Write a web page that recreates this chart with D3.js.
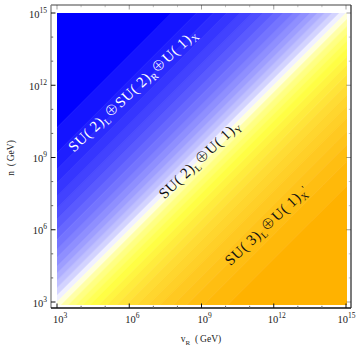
<!DOCTYPE html>
<html><head><meta charset="utf-8">
<script src="https://cdn.jsdelivr.net/npm/d3@7/dist/d3.min.js"></script>
<style>body{margin:0;background:#fff}svg{display:block}</style>
</head><body><svg id="c" width="356" height="347"></svg>
<script>
// ---- data ----
// contour levels of d = log10(n) - log10(vR)
const levelsBlue   = [0, 0.3, 0.6, 0.9, 1.2, 1.5, 1.85, 2.2, 2.6, 3.0, 3.45, 3.9, 4.4, 4.95, 5.5, 6.2, 7.25, 30];
const levelsOrange = [0, -0.3, -0.6, -0.9, -1.2, -1.5, -1.85, -2.2, -2.6, -3.0, -3.45, -3.9, -4.4, -4.95, -5.5, -6.2, -7.2, -30];
const xTickExps = [3, 6, 9, 12, 15];
const yTickExps = [3, 6, 9, 12, 15];
const minorExps = d3.range(3, 16);
const regionLabels = [
  {parts:[["SU(\u20092)",""],["L","sub"],["\u2295","op"],["SU(\u20092)",""],["R","sub"],["\u2295","op"],["U(\u20091)",""],["X","sub"]], x:6.28, y:11.64, color:"#ffffff"},
  {parts:[["SU(\u20092)",""],["L","sub"],["\u2295","op"],["U(\u20091)",""],["Y","sub"]], x:9.06, y:8.77, color:"#111111"},
  {parts:[["SU(\u20093)",""],["L","sub"],["\u2295","op"],["U(\u20091)",""],["X","sub"],["'","sup"]], x:11.84, y:6.03, color:"#111111"}
];

// ---- layout ----
const svg = d3.select("#c");
const x = d3.scaleLog().domain([1e3, 1e15]).range([57, 346]);
const y = d3.scaleLog().domain([1e3, 1e15]).range([302, 13]);
const P = v => Math.pow(10, v);
const frame = {l:51, r:351, t:5, b:308};
const fill = {l:57, r:347, t:13, b:305};

svg.append("clipPath").attr("id","clip").append("rect")
  .attr("x", fill.l).attr("y", fill.t).attr("width", fill.r-fill.l).attr("height", fill.b-fill.t);

const blueI = d3.interpolateRgb("#ffffff", "#0000ff");
const orangeI = d3.piecewise(d3.interpolateRgb, ["#ffffff", "#ffff88", "#ffff44", "#ffe038", "#ffc820", "#ffb200"]);

const g = svg.append("g").attr("clip-path","url(#clip)");
function band(a, b, col) {
  const x0 = -20, x1 = 40;
  const pts = [[x0, x0+a],[x1, x1+a],[x1, x1+b],[x0, x0+b]].map(p => [x(P(p[0])), y(P(p[1]))]);
  g.append("path").attr("d", "M" + pts.join("L") + "Z").attr("fill", col).attr("stroke", col).attr("stroke-width", 0.6);
}
const nB = levelsBlue.length - 1;
for (let i = 0; i < nB; i++) {
  const t = i === nB-1 ? 1 : 0.06 + 0.86 * Math.pow(i / (nB - 2), 0.75);
  band(levelsBlue[i], levelsBlue[i+1], blueI(Math.min(1, t)));
}
const nO = levelsOrange.length - 1;
for (let i = 0; i < nO; i++) {
  const t = i === nO-1 ? 1 : 0.06 + 0.88 * Math.pow(i / (nO - 2), 0.85);
  band(levelsOrange[i+1], levelsOrange[i], orangeI(Math.min(1, t)));
}

// frame
svg.append("line").attr("x1",frame.l).attr("x2",frame.l).attr("y1",frame.t).attr("y2",frame.b).attr("stroke","#808080").attr("stroke-width",1.3);
svg.append("line").attr("x1",frame.l).attr("x2",frame.r).attr("y1",frame.t).attr("y2",frame.t).attr("stroke","#808080").attr("stroke-width",1.3);
svg.append("line").attr("x1",frame.l).attr("x2",frame.r).attr("y1",frame.b).attr("y2",frame.b).attr("stroke","#111").attr("stroke-width",1.3);
svg.append("line").attr("x1",frame.r).attr("x2",frame.r).attr("y1",frame.t).attr("y2",frame.b).attr("stroke","#333").attr("stroke-width",1.3);

// ticks
const tk = svg.append("g");
minorExps.forEach(e => {
  const major = xTickExps.includes(e);
  const L = major ? 4.5 : 2.2;
  const col = major ? "#111" : "#666";
  tk.append("line").attr("x1",frame.l).attr("x2",frame.l+L).attr("y1",y(P(e))).attr("y2",y(P(e))).attr("stroke",col).attr("stroke-width",1);
  tk.append("line").attr("x1",x(P(e))).attr("x2",x(P(e))).attr("y1",frame.b).attr("y2",frame.b-L).attr("stroke",col).attr("stroke-width",1);
  tk.append("line").attr("x1",frame.r).attr("x2",frame.r-L).attr("y1",y(P(e))).attr("y2",y(P(e))).attr("stroke",col).attr("stroke-width",0.8).attr("opacity",0.5);
  tk.append("line").attr("x1",x(P(e))).attr("x2",x(P(e))).attr("y1",frame.t).attr("y2",frame.t+L).attr("stroke",col).attr("stroke-width",0.8).attr("opacity",0.5);
});

const FONT = "'Liberation Serif','DejaVu Serif',serif";
function powLabel(sel, e) {
  sel.append("tspan").text("10");
  sel.append("tspan").attr("dy", -5).attr("font-size", 7.5).text(e);
}
xTickExps.forEach((e, i) => {
  const last = i === xTickExps.length - 1;
  const t = svg.append("text").attr("x", last ? 355.5 : x(P(e))+3).attr("y", 323)
    .attr("text-anchor", last ? "end" : "middle")
    .attr("font-family",FONT).attr("font-size",10.5).attr("fill","#222");
  powLabel(t, e);
});
yTickExps.forEach(e => {
  const t = svg.append("text").attr("x", 47).attr("y", y(P(e))+4.5).attr("text-anchor","end")
    .attr("font-family",FONT).attr("font-size",10.5).attr("fill","#222");
  powLabel(t, e);
});

// axis titles
const xt = svg.append("text").attr("x", 201).attr("y", 342).attr("text-anchor","middle")
  .attr("font-family",FONT).attr("font-size",9.5).attr("fill","#222");
xt.append("tspan").text("v");
xt.append("tspan").attr("dy",2.5).attr("font-size",7).text("R");
xt.append("tspan").attr("dy",-2.5).text("\u2002(\u2009GeV)");
svg.append("text").attr("transform","translate(14,158) rotate(-90)").attr("text-anchor","middle")
  .attr("font-family",FONT).attr("font-size",9.5).attr("fill","#222").text("n\u2002(\u2009GeV)");

// region labels
regionLabels.forEach(lb => {
  const t = svg.append("text")
    .attr("transform", `translate(${x(P(lb.x))},${y(P(lb.y))}) rotate(-43.5)`)
    .attr("text-anchor","middle").attr("dy","0.35em")
    .attr("font-family",FONT).attr("font-size",15).attr("letter-spacing",0.6).attr("fill",lb.color);
  let shift = 0;
  lb.parts.forEach(([s, k]) => {
    const target = k === "sub" ? 3.5 : k === "sup" ? -3 : 0;
    const ts = t.append("tspan").attr("dy", target - shift).text(s);
    if (k === "sub" || k === "sup") ts.attr("font-size", 9.5);
    if (k === "op") ts.attr("font-family", "'Noto Sans CJK JP','Noto Sans CJK SC','DejaVu Sans',sans-serif").attr("font-weight", 300).attr("font-size", 14);
    shift = target;
  });
});
</script></body></html>
